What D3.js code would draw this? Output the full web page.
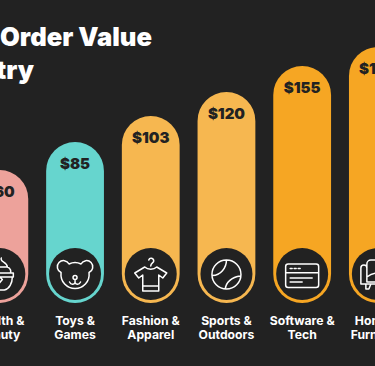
<!DOCTYPE html>
<html><head><meta charset="utf-8">
<script src="https://cdnjs.cloudflare.com/ajax/libs/d3/7.8.5/d3.min.js"></script>
<style>html,body{margin:0;padding:0;background:#222;overflow:hidden}svg{display:block}
text{font-family:Inter,"Noto Sans",sans-serif}</style></head><body>
<svg id="c" width="375" height="366"></svg>
<script>
const categories=["Health & Beauty","Toys & Games","Fashion & Apparel","Sports & Outdoors","Software & Tech","Home & Furniture"];
const labelLine1=["Health &","Toys &","Fashion &","Sports &","Software &","Home &"];
const labelLine2=["Beauty","Games","Apparel","Outdoors","Tech","Furniture"];
const values=[60,85,103,120,155,180];
const valueLabels=["$60","$85","$103","$120","$155","$180"];
const barColors=["#EDA29B","#66D5CE","#F6B750","#F6B750","#F6A623","#F6A623"];
const titleLines=["Average Order Value","by Industry"];
const iconNames=["jar","bear","shirt","ball","window","chair"];

const svg=d3.select("#c");
svg.append("rect").attr("width",375).attr("height",366).attr("fill","#222");

const x=d3.scaleBand().domain(categories).range([-38.5,415.7]).paddingInner(0.2365).paddingOuter(0.118);
const y=d3.scaleLinear().domain([0,60,85,103,120,155,180]).range([303,170,142,116,92,66,47]);
const bw=x.bandwidth(), cx=c=>x(c)+bw/2;

const g=svg.selectAll("g.bar").data(categories).join("g").attr("class","bar");
g.append("path").attr("fill",(d,i)=>barColors[i]).attr("d",(d,i)=>{
  const p=d3.path(),l=x(d),r=l+bw,t=y(values[i]),b=y(0),R=bw/2;
  p.moveTo(l,b-R);p.lineTo(l,t+R);p.arc(l+R,t+R,R,Math.PI,0);p.lineTo(r,b-R);p.arc(l+R,b-R,R,0,Math.PI);p.closePath();return p.toString();
});
g.append("text").attr("x",cx).attr("y",(d,i)=>y(values[i])+27).attr("text-anchor","middle")
 .attr("font-size",15).attr("font-weight",900).attr("fill","#222").text((d,i)=>valueLabels[i]);
g.append("circle").attr("cx",cx).attr("cy",274).attr("r",26).attr("fill","#222");
g.append("text").attr("x",cx).attr("y",325).attr("text-anchor","middle").attr("font-size",12.2).attr("font-weight",700).attr("fill","#fff").text((d,i)=>labelLine1[i]);
g.append("text").attr("x",cx).attr("y",339).attr("text-anchor","middle").attr("font-size",12.2).attr("font-weight",700).attr("fill","#fff").text((d,i)=>labelLine2[i]);

const iconPaths={
 jar:"M-16 -1H14V3H-16M13 3C13 9 10 15 5 16H-6M2 -16C0 -12 8 -12 8 -7C11 -6 12 -3 11 -1M-8 -7H8M-3 5L0 2.5L3 5.5L0 9L-3 6",
 bear:"M-6 -10A6.2 6.2 0 1 0 -14 -1.5C-15 8 -8 14.5 0 14.5C8 14.5 15 8 14 -1.5A6.2 6.2 0 1 0 6 -10C2 -12 -2 -12 -6 -10ZM-2 3.5a2 2 0 1 0 4 0a2 2 0 1 0 -4 0M0 5.5V8.5M-5.5 8C-4 11 -1 11 0 8.5C1 11 4 11 5.5 8",
 shirt:"M0 -8C0 -11 3 -11 3 -13C3 -16 -1 -17 -2 -14M-6 -7C-3 -4 3 -4 6 -7L16 -1L12 4L8 1V17H-8V1L-12 4L-16 -1ZM-8 12H8",
 ball:"M-14.5 0.5A14.5 14.5 0 1 0 14.5 0.5A14.5 14.5 0 1 0 -14.5 0.5M0 -14C0 -6 -6 1.5 -14 1.5M14 2C5 3 -1 9 -1 15",
 window:"M-14 -10H14A2.5 2.5 0 0 1 16.5 -7.5V11A2.5 2.5 0 0 1 14 13.5H-14A2.5 2.5 0 0 1 -16.5 11V-7.5A2.5 2.5 0 0 1 -14 -10ZM-16.5 -1.3H16.5M-12 4H10M-12 8H0M-12 -5.5H-10M-8 -5.5H-6M-4 -5.5H-2",
 chair:"M-17 -6A3 3 0 0 1 -11 -6V8H11V-6A3 3 0 0 1 17 -6V10H-17ZM-11 -6V-10A4 4 0 0 1 -7 -14H7A4 4 0 0 1 11 -10V-6M-11 3C-4 -2 4 -2 11 3M-12 10V15H-9L-7 10M9 10L11 15H12V10"
};
g.append("path").attr("transform",(d,i)=>`translate(${cx(d)},274)`).attr("d",(d,i)=>iconPaths[iconNames[i]])
 .attr("fill","none").attr("stroke","#fff").attr("stroke-width",1.5).attr("stroke-linejoin","round").attr("stroke-linecap","round");

svg.selectAll("text.t").data(titleLines).join("text").attr("class","t")
 .attr("x",(d,i)=>i==0?152:34).attr("y",(d,i)=>i==0?46:79).attr("text-anchor","end")
 .attr("font-size",25.6).attr("font-weight",900).attr("fill","#fff").text(d=>d);
</script></body></html>
